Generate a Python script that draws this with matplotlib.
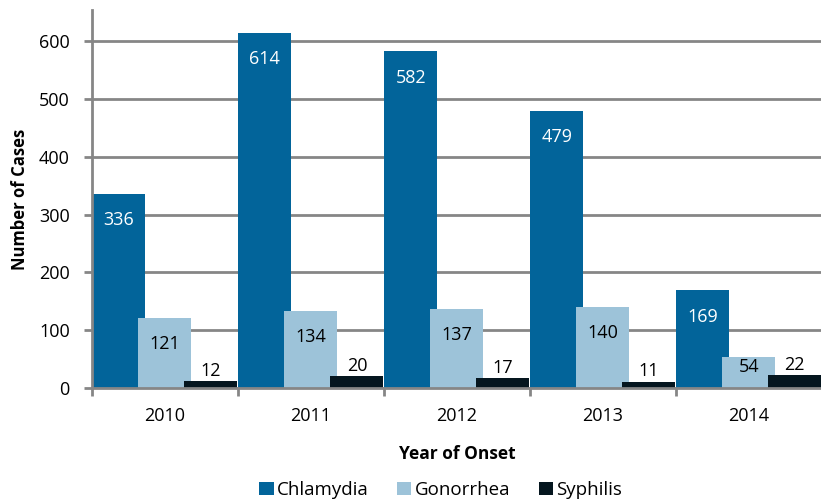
import numpy as np
import matplotlib.pyplot as plt

# dane
lata = ['2010', '2011', '2012', '2013', '2014']
chlamydia = [336, 614, 582, 479, 169]
gonorrhea = [121, 134, 137, 140, 54]
syphilis = [12, 20, 17, 11, 22]

kolory = ['#02649A', '#9DC3D9', '#05161F']
plt.rcParams['font.family'] = ['Open Sans', 'DejaVu Sans']

fig = plt.figure(figsize=(8.21, 5.01), dpi=100)
ax = fig.add_axes([0.112, 0.2255, 0.889, 0.755])

x = np.arange(len(lata))
szer = 0.363
krok = 0.315
serie = [('Chlamydia', chlamydia), ('Gonorrhea', gonorrhea), ('Syphilis', syphilis)]

for i, (nazwa, wart) in enumerate(serie):
    slupki = ax.bar(x + (i - 1) * krok, wart, szer, color=kolory[i], label=nazwa,
                    zorder=3 + i, clip_on=False)
    for s, v in zip(slupki, wart):
        cx = s.get_x() + s.get_width() / 2
        if i == 2:
            # etykieta nad słupkiem
            ax.annotate(str(v), (cx, v), xytext=(0, 1), textcoords='offset points',
                        ha='center', va='bottom', fontsize=13, color='black', zorder=10)
        elif v > 80:
            ax.annotate(str(v), (cx, v), xytext=(0, -19), textcoords='offset points',
                        ha='center', va='center', fontsize=13,
                        color='white' if i == 0 else 'black', zorder=10)
        else:
            ax.annotate(str(v), (cx, v / 2), xytext=(0, 4), textcoords='offset points',
                        ha='center', va='center', fontsize=13,
                        color='white' if i == 0 else 'black', zorder=10)

ax.set_xlim(-0.5, len(lata) - 0.5)
ax.set_ylim(0, 654)
ax.set_yticks(range(0, 700, 100))
ax.set_xticks(x)
ax.set_xticklabels(lata)
ax.set_xticks(np.arange(-0.5, len(lata) - 0.4, 1), minor=True)
ax.tick_params(axis='x', which='major', length=0, pad=14, labelsize=13)
ax.tick_params(axis='x', which='minor', length=6, width=2, color='#868686')
ax.tick_params(axis='y', length=6, width=2, color='#868686', pad=10, labelsize=13)

ax.grid(axis='y', color='#868686', linewidth=2, zorder=0)
for sp in ['top', 'right']:
    ax.spines[sp].set_visible(False)
for sp in ['left', 'bottom']:
    ax.spines[sp].set_color('#868686')
    ax.spines[sp].set_linewidth(2)
    ax.spines[sp].set_zorder(8)

ax.set_ylabel('Number of Cases', fontsize=12, fontweight='bold', labelpad=7)
ax.set_xlabel('Year of Onset', fontsize=12.5, fontweight='bold', labelpad=14)
fig.legend(loc='lower center', bbox_to_anchor=(0.537, -0.03), ncol=3, frameon=False,
           fontsize=13.5, handlelength=0.75, handleheight=0.75, handletextpad=0.2,
           columnspacing=1.5)

plt.savefig('out.png', dpi=100)
